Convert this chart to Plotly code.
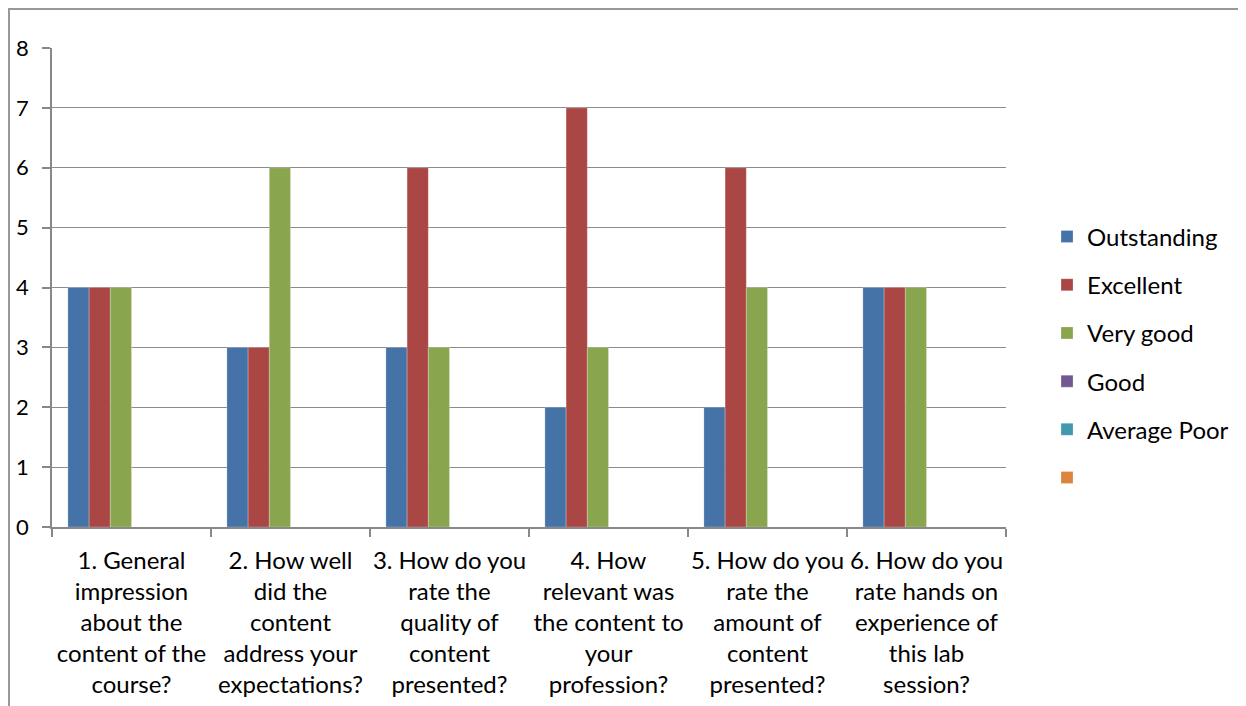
import plotly.graph_objects as go

categories = [
    "1. General<br>impression<br>about the<br>content of the<br>course?",
    "2. How well<br>did the<br>content<br>address your<br>expectations?",
    "3. How do you<br>rate the<br>quality of<br>content<br>presented?",
    "4. How<br>relevant was<br>the content to<br>your<br>profession?",
    "5. How do you<br>rate the<br>amount of<br>content<br>presented?",
    "6. How do you<br>rate hands on<br>experience of<br>this lab<br>session?",
]
cat_keys = ["Q1", "Q2", "Q3", "Q4", "Q5", "Q6"]

series_names = ["Outstanding", "Excellent", "Very good", "Good", "Average Poor", " "]
outstanding = [4, 3, 3, 2, 2, 4]
excellent = [4, 3, 6, 7, 6, 4]
very_good = [4, 6, 3, 3, 4, 4]
good = [0, 0, 0, 0, 0, 0]
average_poor = [0, 0, 0, 0, 0, 0]
unnamed = [0, 0, 0, 0, 0, 0]
series_values = [outstanding, excellent, very_good, good, average_poor, unnamed]
colors = ["#4572A7", "#AA4643", "#89A54E", "#71588F", "#4198AF", "#DB843D"]

y_ticks = [0, 1, 2, 3, 4, 5, 6, 7, 8]

FONT = "Lato"

fig = go.Figure()
for i, (name, vals, col) in enumerate(zip(series_names, series_values, colors)):
    fig.add_trace(go.Bar(
        x=cat_keys, y=vals, name=name, legendgroup=f"g{i}",
        marker=dict(color=col, line=dict(color="rgba(255,255,255,0.3)", width=0.8)),
    ))

fig.update_layout(
    width=1246, height=706,
    margin=dict(l=44, r=248, t=40, b=187, autoexpand=False),
    paper_bgcolor="white", plot_bgcolor="white",
    barmode="group", bargap=0.2, bargroupgap=0,
    font=dict(family=FONT, size=24, color="black"),
    showlegend=True,
    legend=dict(x=1.043, xanchor="left", y=0.354, yanchor="middle",
                font=dict(family=FONT, size=24, color="black"),
                tracegroupgap=14, bgcolor="rgba(0,0,0,0)"),
    shapes=[dict(type="rect", xref="paper", yref="paper",
                 x0=(9 - 52) / 954, x1=1.3, y0=-0.5, y1=(527 - 9) / 479,
                 line=dict(color="#999999", width=2), layer="below")],
)

fig.update_xaxes(
    type="category", tickmode="array", tickvals=cat_keys, ticktext=categories,
    tickson="boundaries", ticks="outside", ticklen=8, tickcolor="#888888", tickwidth=1.5,
    showline=True, linecolor="#888888", linewidth=1.5, showgrid=False,
    tickfont=dict(family=FONT, size=24, color="black"), tickangle=0,
    ticklabelstandoff=11, automargin=False,
)
fig.update_yaxes(
    range=[0, 8], tickmode="array", tickvals=y_ticks, ticktext=[str(v) for v in y_ticks],
    ticks="outside", ticklen=8, tickcolor="#888888", tickwidth=1.5,
    showline=True, linecolor="#888888", linewidth=1.5,
    showgrid=True, gridcolor="#8C8C8C", gridwidth=1, zeroline=False,
    tickfont=dict(family=FONT, size=22, color="black"), ticklabelstandoff=9,
    automargin=False,
)

fig.write_html("out.html")
